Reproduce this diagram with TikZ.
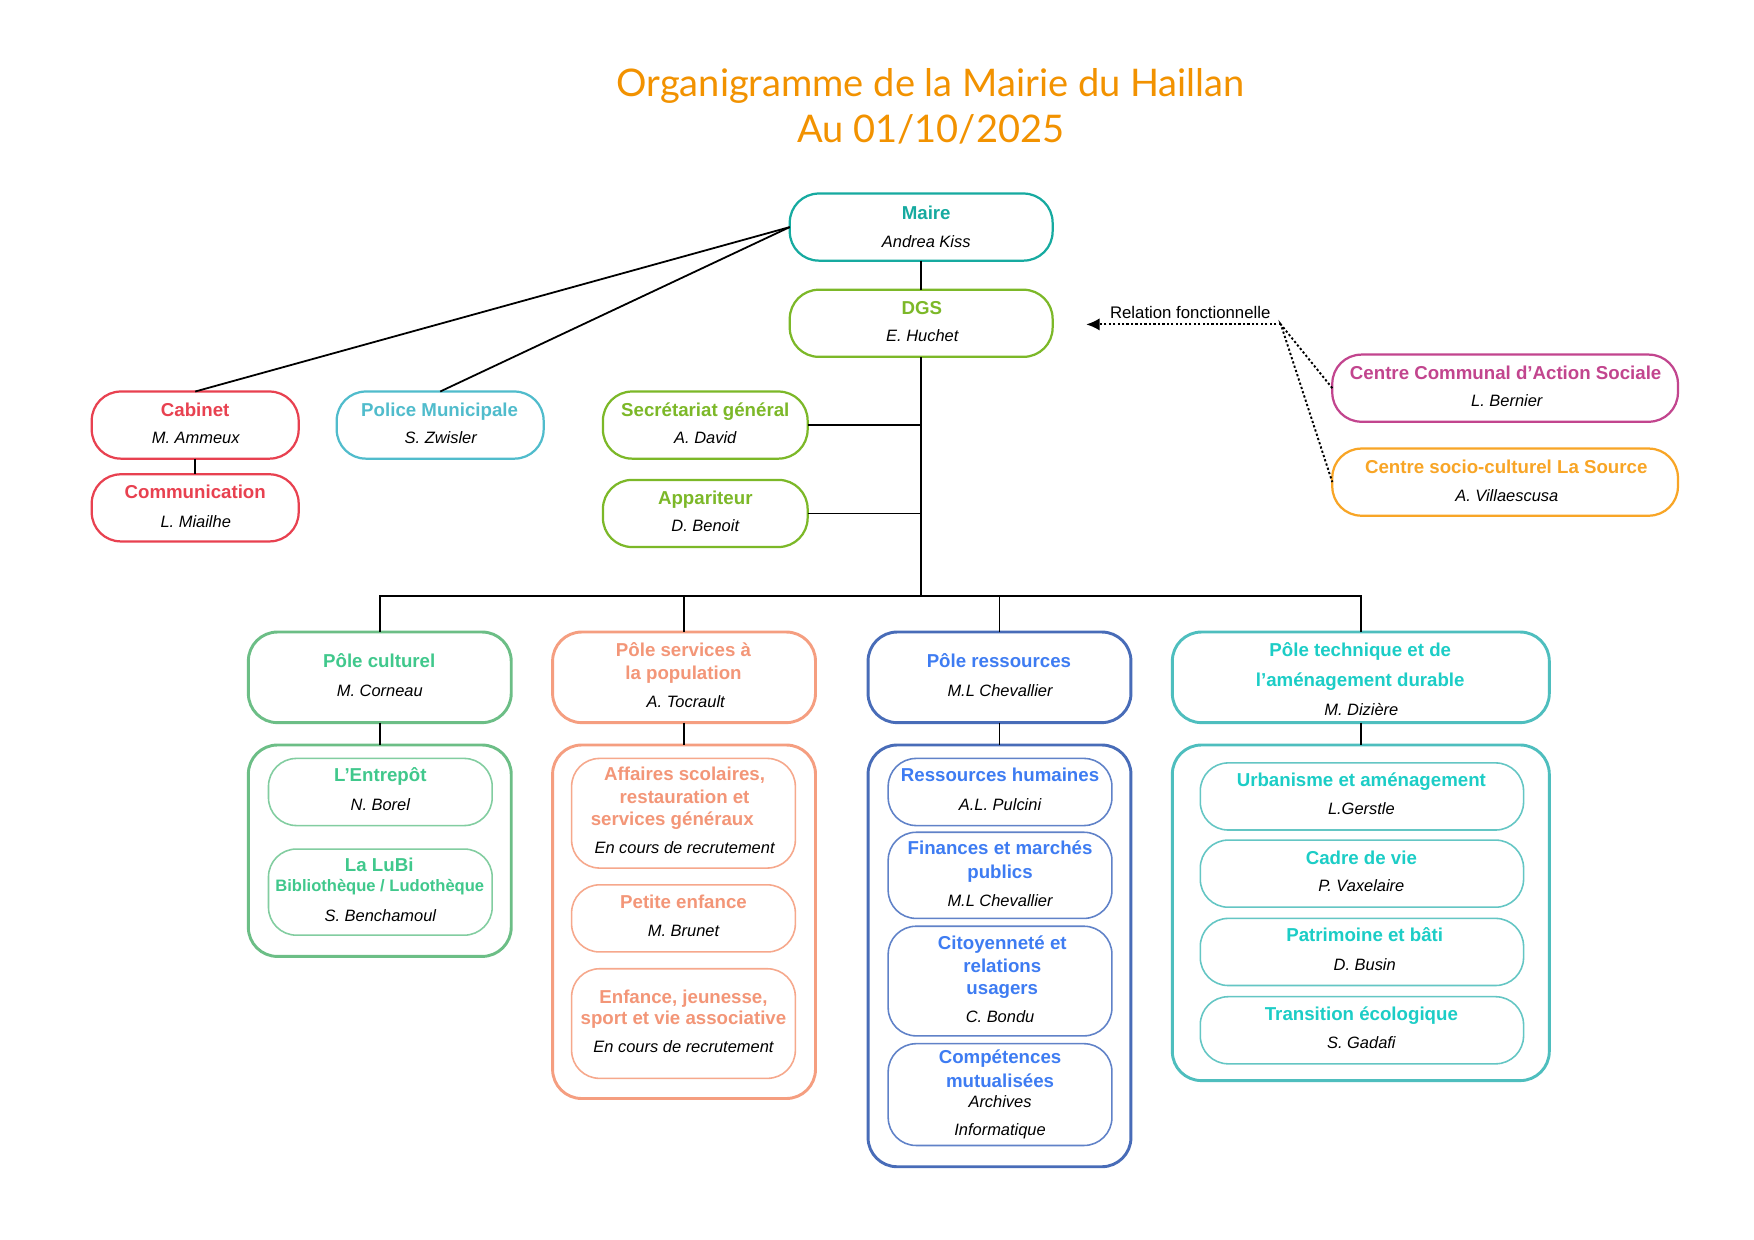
\documentclass[tikz,border=0pt]{standalone}
\usepackage{fontspec}
\setmainfont{Liberation Sans}
\newfontfamily\titlefont{Lato}
\usetikzlibrary{arrows.meta}
\definecolor{ctitle}{RGB}{242,146,0}
\definecolor{cteal}{RGB}{22,170,160}
\definecolor{cgreen}{RGB}{124,184,40}
\definecolor{cred}{RGB}{232,65,80}
\definecolor{cpolice}{RGB}{80,188,204}
\definecolor{cmag}{RGB}{194,69,142}
\definecolor{corange}{RGB}{248,165,38}
\definecolor{ccultB}{RGB}{108,190,134}
\definecolor{ccultT}{RGB}{64,200,140}
\definecolor{ccultI}{RGB}{130,205,160}
\definecolor{cservB}{RGB}{245,158,128}
\definecolor{cservT}{RGB}{243,150,120}
\definecolor{cservI}{RGB}{246,168,140}
\definecolor{cresB}{RGB}{72,108,184}
\definecolor{cresT}{RGB}{62,124,242}
\definecolor{cresI}{RGB}{96,130,200}
\definecolor{ctechB}{RGB}{78,190,190}
\definecolor{ctechT}{RGB}{28,205,198}
\definecolor{ctechI}{RGB}{100,198,196}
\newcounter{tc}
\newcommand\bx[6]{\node[#6, minimum width={(#4)-(#2)}, minimum height={(#5)-(#3)}] (#1) at ({((#2)+(#4))/2},{((#3)+(#5))/2}) {};}
\newcommand\tx[4]{\stepcounter{tc}\node[#3] (txt\number\value{tc}) at (#1,#2) {#4};}
\tikzset{
  box/.style={draw, rounded corners=26pt, inner sep=0pt, outer sep=0pt, line width=2pt},
  sbox/.style={draw, rounded corners=25pt, inner sep=0pt, outer sep=0pt, line width=1.4pt},
  cbox/.style={draw, rounded corners=26pt, inner sep=0pt, outer sep=0pt, line width=2.6pt},
  hd/.style={font=\bfseries\fontsize{16.7}{20}\selectfont, anchor=base, yshift=-6pt, inner sep=0pt},
  nm/.style={font=\itshape\fontsize{14.7}{17}\selectfont, anchor=base, yshift=-5.2pt, inner sep=0pt},
  sb/.style={font=\bfseries\fontsize{14.8}{17}\selectfont, anchor=base, yshift=-5.3pt, inner sep=0pt},
  ttl/.style={font=\titlefont\fontsize{34}{40}\selectfont, anchor=base, text=ctitle, inner sep=0pt},
  conn/.style={line width=1.6pt, black},
  rel/.style={line width=1.7pt, dash pattern=on 2pt off 2pt, black},
}
\begin{document}
\begin{tikzpicture}[x=1pt,y=-1pt]
\fill[white] (0,0) rectangle (1568,1108.5);
\useasboundingbox (0,0) rectangle (1568,1108.5);
% title
\tx{832}{86}{ttl}{Organigramme de la Mairie du Haillan}
\tx{832}{127}{ttl}{Au 01/10/2025}
% top
\bx{maire}{706}{173}{941}{233}{box, draw=cteal}
\tx{828}{190}{hd,text=cteal}{Maire}
\tx{828}{216}{nm}{Andrea Kiss}
\bx{dgs}{706}{259}{941}{319}{box, draw=cgreen}
\tx{824}{275}{hd,text=cgreen}{DGS}
\tx{824.5}{300}{nm}{E. Huchet}
\bx{cab}{82}{350}{267}{410}{box, draw=cred}
\tx{174.5}{366}{hd,text=cred}{Cabinet}
\tx{175}{391}{nm}{M. Ammeux}
\bx{com}{82}{424}{267}{484}{box, draw=cred}
\tx{174.5}{440}{hd,text=cred}{Communication}
\tx{175}{466}{nm}{L. Miailhe}
\bx{pol}{301}{350}{486}{410}{box, draw=cpolice}
\tx{393}{366}{hd,text=cpolice}{Police Municipale}
\tx{394}{391}{nm}{S. Zwisler}
\bx{sec}{539}{350}{722}{410}{box, draw=cgreen}
\tx{630.5}{366}{hd,text=cgreen}{Secrétariat général}
\tx{630.5}{391}{nm}{A. David}
\bx{app}{539}{429}{722}{489}{box, draw=cgreen}
\tx{630.5}{445}{hd,text=cgreen}{Appariteur}
\tx{630.5}{470}{nm}{D. Benoit}
\bx{ccas}{1191}{317}{1500}{377}{box, draw=cmag}
\tx{1346}{333}{hd,text=cmag}{Centre Communal d’Action Sociale}
\tx{1347}{358}{nm}{L. Bernier}
\bx{src}{1191}{401}{1500}{461}{box, draw=corange}
\tx{1346.5}{417}{hd,text=corange}{Centre socio-culturel La Source}
\tx{1347}{443}{nm}{A. Villaescusa}
% poles
\bx{pc}{222}{565}{457}{646}{cbox, draw=ccultB}
\tx{339}{591}{hd,text=ccultT}{Pôle culturel}
\tx{339.5}{617}{nm}{M. Corneau}
\bx{ps}{494}{565}{729}{646}{cbox, draw=cservB}
\tx{611}{581}{hd,text=cservT}{Pôle services à}
\tx{611}{601}{hd,text=cservT}{la population}
\tx{613}{627}{nm}{A. Tocrault}
\bx{pr}{776}{565}{1011}{646}{cbox, draw=cresB}
\tx{893}{591}{hd,text=cresT}{Pôle ressources}
\tx{894}{617}{nm}{M.L Chevallier}
\bx{pt}{1048}{565}{1385}{646}{cbox, draw=ctechB}
\tx{1216}{581}{hd,text=ctechT}{Pôle technique et de}
\tx{1216}{608}{hd,text=ctechT}{l’aménagement durable}
\tx{1217}{634}{nm}{M. Dizière}
% containers
\bx{kc}{222}{666}{457}{855}{cbox, draw=ccultB}
\bx{ks}{494}{666}{729}{982}{cbox, draw=cservB}
\bx{kr}{776}{666}{1011}{1043}{cbox, draw=cresB}
\bx{kt}{1048}{666}{1385}{966}{cbox, draw=ctechB}
% culturel
\bx{ent}{240}{678}{440}{738}{sbox, draw=ccultI}
\tx{340}{693}{hd,text=ccultT}{L’Entrepôt}
\tx{340}{719}{nm}{N. Borel}
\bx{lubi}{240}{759}{440}{836}{sbox, draw=ccultI}
\tx{339}{773}{hd,text=ccultT}{La LuBi}
\tx{339.5}{792}{sb,text=ccultT}{Bibliothèque / Ludothèque}
\tx{340}{819}{nm}{S. Benchamoul}
% services
\bx{aff}{511}{678}{711}{776}{sbox, draw=cservI}
\tx{612}{692}{hd,text=cservT}{Affaires scolaires,}
\tx{612}{712}{hd,text=cservT}{restauration et}
\tx{601}{732}{hd,text=cservT}{services généraux}
\tx{612}{758}{nm}{En cours de recrutement}
\bx{pet}{511}{791}{711}{851}{sbox, draw=cservI}
\tx{611}{806}{hd,text=cservT}{Petite enfance}
\tx{611}{832}{nm}{M. Brunet}
\bx{enf}{511}{866}{711}{964}{sbox, draw=cservI}
\tx{611}{891}{hd,text=cservT}{Enfance, jeunesse,}
\tx{611}{910}{hd,text=cservT}{sport et vie associative}
\tx{611}{936}{nm}{En cours de recrutement}
% ressources
\bx{rh}{794}{678}{994}{738}{sbox, draw=cresI}
\tx{894}{693}{hd,text=cresT}{Ressources humaines}
\tx{894}{719}{nm}{A.L. Pulcini}
\bx{fin}{794}{744}{994}{821}{sbox, draw=cresI}
\tx{894}{758}{hd,text=cresT}{Finances et marchés}
\tx{894}{779}{hd,text=cresT}{publics}
\tx{894}{805}{nm}{M.L Chevallier}
\bx{cit}{794}{828}{994}{926}{sbox, draw=cresI}
\tx{896}{843}{hd,text=cresT}{Citoyenneté et}
\tx{896}{863}{hd,text=cresT}{relations}
\tx{896}{883}{hd,text=cresT}{usagers}
\tx{894}{909}{nm}{C. Bondu}
\bx{cmp}{794}{933}{994}{1024}{sbox, draw=cresI}
\tx{894}{945}{hd,text=cresT}{Compétences}
\tx{894}{966}{hd,text=cresT}{mutualisées}
\tx{894}{985}{nm}{Archives}
\tx{894}{1010}{nm}{Informatique}
% technique
\bx{urb}{1073}{682}{1362}{742}{sbox, draw=ctechI}
\tx{1217}{697}{hd,text=ctechT}{Urbanisme et aménagement}
\tx{1217}{723}{nm}{L.Gerstle}
\bx{cad}{1073}{751}{1362}{811}{sbox, draw=ctechI}
\tx{1217}{767}{hd,text=ctechT}{Cadre de vie}
\tx{1217}{792}{nm}{P. Vaxelaire}
\bx{pat}{1073}{821}{1362}{881}{sbox, draw=ctechI}
\tx{1220}{836}{hd,text=ctechT}{Patrimoine et bâti}
\tx{1220}{862}{nm}{D. Busin}
\bx{tra}{1073}{891}{1362}{951}{sbox, draw=ctechI}
\tx{1217}{906}{hd,text=ctechT}{Transition écologique}
\tx{1217}{932}{nm}{S. Gadafi}
% connectors
\coordinate (bus) at (823.5,533);
\draw[conn] (maire.south) -- (dgs.north);
\draw[conn] (maire.west) -- (cab.north);
\draw[conn] (maire.west) -- (pol.north);
\draw[conn] (cab.south) -- (com.north);
\draw[conn] (dgs.south) -- (bus);
\draw[conn] (sec.east) -- (sec.east -| bus);
\draw[conn] (app.east) -- (app.east -| bus);
\draw[conn] (pc.north) |- (bus) -| (pt.north);
\draw[conn] (ps.north) -- (ps.north |- bus);
\draw[conn] (pr.north) -- (pr.north |- bus);
\draw[conn] (pc.south) -- (kc.north);
\draw[conn] (ps.south) -- (ks.north);
\draw[conn] (pr.south) -- (kr.north);
\draw[conn] (pt.south) -- (kt.north);
% relation fonctionnelle
\coordinate (rf) at (1145,290);
\coordinate (ra) at (971,290);
\tx{1064}{285}{font=\fontsize{15}{18}\selectfont, anchor=base, inner sep=0pt}{Relation fonctionnelle}
\draw[rel, -{Latex[length=12pt,width=11pt]}] (rf) -- (ra);
\draw[rel] (ccas.west) -- (rf) -- (src.west);
\end{tikzpicture}
\end{document}
